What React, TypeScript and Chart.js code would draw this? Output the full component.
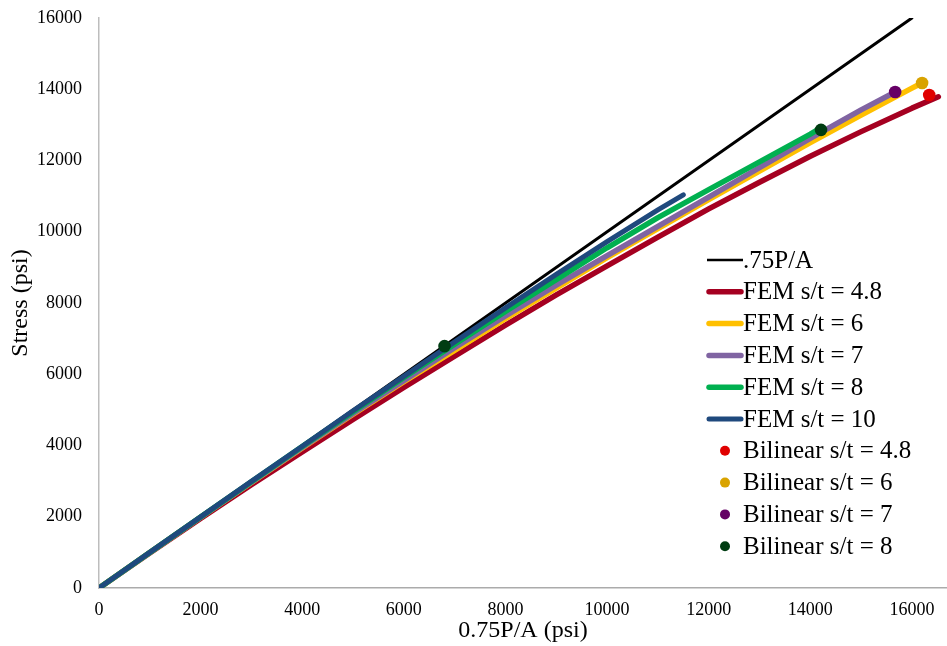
import { useEffect, useRef } from "react";
import { Chart, registerables } from "chart.js";

Chart.register(...registerables);

const SERIF = '"Liberation Serif", "Times New Roman", serif';

// Axis ticks
const xTickValues = [0, 2000, 4000, 6000, 8000, 10000, 12000, 14000, 16000];
const yTickValues = [0, 2000, 4000, 6000, 8000, 10000, 12000, 14000, 16000];

// Reference line: stress equal to 0.75P/A
const refX = [0, 16000];
const refY = [0, 16000];

// FEM curves, 0.75P/A (psi) vs stress (psi)
const fem48X = [0, 1000, 2000, 3000, 4000, 5000, 6000, 7000, 8000, 9000, 10000, 11000, 12000, 13000, 14000, 15000, 16000, 16520];
const fem48Y = [0, 985, 1950, 2900, 3820, 4730, 5630, 6510, 7380, 8230, 9040, 9850, 10640, 11390, 12120, 12810, 13470, 13790];

const fem6X = [0, 1000, 2000, 3000, 4000, 5000, 6000, 7000, 8000, 9000, 10000, 11000, 12000, 13000, 14000, 15000, 16000, 16120];
const fem6Y = [0, 995, 1985, 2965, 3930, 4880, 5790, 6670, 7560, 8415, 9270, 10090, 10900, 11700, 12500, 13275, 14030, 14120];

const fem7X = [0, 1000, 2000, 3000, 4000, 5000, 6000, 7000, 8000, 9000, 10000, 11000, 12000, 13000, 14000, 15000, 15670];
const fem7Y = [0, 996, 1988, 2972, 3945, 4900, 5820, 6745, 7640, 8500, 9330, 10150, 10975, 11800, 12620, 13420, 13923];

const fem8X = [0, 1000, 2000, 3000, 4000, 5000, 6000, 7000, 8000, 9000, 10000, 11000, 12000, 13000, 14000, 14150];
const fem8Y = [0, 998, 1993, 2985, 3970, 4950, 5910, 6846, 7760, 8658, 9550, 10395, 11184, 11960, 12740, 12870];

const fem10X = [0, 1000, 2000, 3000, 4000, 5000, 6000, 7000, 8000, 9000, 10000, 11000, 11500];
const fem10Y = [0, 1000, 1996, 2992, 3980, 4975, 5940, 6909, 7864, 8802, 9720, 10615, 11036];

// Bilinear model points
const bil48X = [16340];
const bil48Y = [13840];
const bil6X = [16200];
const bil6Y = [14175];
const bil7X = [15670];
const bil7Y = [13923];
const bil8X = [6800, 14210];
const bil8Y = [6790, 12860];

const toPoints = (xs: number[], ys: number[]) => xs.map((x, i) => ({ x, y: ys[i] }));

type KeyRow = { label: string; color: string; kind: "line" | "dot"; width: number };

// Draws the series key inside the plot, on the right
const seriesKey = {
  id: "seriesKey",
  afterDraw(chart: any) {
    const ctx = chart.ctx as CanvasRenderingContext2D;
    const rows: KeyRow[] = chart.data.datasets.map((ds: any) => ({
      label: ds.label,
      color: ds.showLine === false ? ds.backgroundColor : ds.borderColor,
      kind: ds.showLine === false ? "dot" : "line",
      width: ds.keyWidth ?? ds.borderWidth,
    }));
    const top = 260;
    const step = 31.8;
    ctx.save();
    ctx.font = `25px ${SERIF}`;
    ctx.textBaseline = "middle";
    ctx.textAlign = "left";
    rows.forEach((r, i) => {
      const y = top + i * step;
      if (r.kind === "line") {
        ctx.strokeStyle = r.color;
        ctx.lineWidth = r.width;
        ctx.lineCap = r.width > 3 ? "round" : "butt";
        ctx.beginPath();
        ctx.moveTo(r.width > 3 ? 709 : 707, y);
        ctx.lineTo(r.width > 3 ? 741 : 743, y);
        ctx.stroke();
      } else {
        ctx.fillStyle = r.color;
        ctx.beginPath();
        ctx.arc(725, y, 5, 0, Math.PI * 2);
        ctx.fill();
      }
      ctx.fillStyle = "#000";
      ctx.fillText(r.label, 743, y + 1);
    });
    ctx.restore();
  },
};

function lineSet(label: string, xs: number[], ys: number[], color: string, width: number, order: number) {
  return {
    label,
    data: toPoints(xs, ys),
    borderColor: color,
    backgroundColor: color,
    borderWidth: width,
    borderCapStyle: "round",
    borderJoinStyle: "round",
    pointRadius: 0,
    pointHoverRadius: 0,
    showLine: true,
    tension: 0,
    order,
  };
}

function dotSet(label: string, xs: number[], ys: number[], color: string) {
  return {
    label,
    data: toPoints(xs, ys),
    borderColor: color,
    backgroundColor: color,
    borderWidth: 0,
    pointRadius: 6.3,
    pointHoverRadius: 6.3,
    showLine: false,
    order: 0,
  };
}

export default function App() {
  const canvasRef = useRef<HTMLCanvasElement | null>(null);

  useEffect(() => {
    if (!canvasRef.current) return;
    const chart = new Chart(canvasRef.current, {
      type: "scatter",
      data: {
        datasets: [
          { ...lineSet(".75P/A", refX, refY, "#000000", 3, 6), keyWidth: 2.5 },
          lineSet("FEM s/t = 4.8", fem48X, fem48Y, "#A50021", 5.5, 5),
          lineSet("FEM s/t = 6", fem6X, fem6Y, "#FFC000", 5.5, 4),
          lineSet("FEM s/t = 7", fem7X, fem7Y, "#8064A2", 5.5, 3),
          lineSet("FEM s/t = 8", fem8X, fem8Y, "#00B050", 5.5, 2),
          lineSet("FEM s/t = 10", fem10X, fem10Y, "#1F497D", 5, 1),
          dotSet("Bilinear s/t = 4.8", bil48X, bil48Y, "#E00000"),
          dotSet("Bilinear s/t = 6", bil6X, bil6Y, "#D9A300"),
          dotSet("Bilinear s/t = 7", bil7X, bil7Y, "#660066"),
          dotSet("Bilinear s/t = 8", bil8X, bil8Y, "#003D12"),
        ] as any,
      },
      options: {
        animation: false,
        responsive: true,
        maintainAspectRatio: false,
        layout: { autoPadding: false, padding: { top: 18, right: 0, left: 0, bottom: 0 } },
        plugins: {
          legend: { display: false },
          tooltip: { enabled: false },
        },
        scales: {
          x: {
            type: "linear",
            min: 0,
            max: 16690,
            afterBuildTicks: (scale: any) => {
              scale.ticks = xTickValues.map((v) => ({ value: v }));
            },
            afterFit: (scale: any) => {
              scale.height = 58;
              scale.paddingLeft = 0;
              scale.paddingRight = 0;
            },
            grid: { display: false, drawTicks: false },
            border: { display: true, color: "#ABABAB", width: 1.5 },
            ticks: {
              color: "#000",
              padding: 11,
              maxRotation: 0,
              autoSkip: false,
              font: { family: SERIF, size: 18 },
              callback: (v: any) => String(v),
            },
            title: {
              display: true,
              text: "0.75P/A (psi)",
              color: "#000",
              font: { family: SERIF, size: 24 },
              padding: { top: 0, bottom: 1 },
            },
          },
          y: {
            type: "linear",
            min: 0,
            max: 16000,
            afterBuildTicks: (scale: any) => {
              scale.ticks = yTickValues.map((v) => ({ value: v }));
            },
            afterFit: (scale: any) => {
              scale.width = 99;
              scale.paddingTop = 0;
              scale.paddingBottom = 0;
            },
            grid: { display: false, drawTicks: false },
            border: { display: true, color: "#BDBDBD", width: 1.5 },
            ticks: {
              color: "#000",
              padding: 17,
              autoSkip: false,
              font: { family: SERIF, size: 18 },
              callback: (v: any) => String(v),
            },
            title: {
              display: true,
              text: "Stress (psi)",
              color: "#000",
              font: { family: SERIF, size: 24 },
              padding: { top: 6, bottom: 0 },
            },
          },
        },
      },
      plugins: [seriesKey],
    });
    return () => chart.destroy();
  }, []);

  return (
    <div style={{ position: "absolute", left: 0, top: 0, width: 947, height: 646, background: "#fff" }}>
      <canvas ref={canvasRef} />
    </div>
  );
}
